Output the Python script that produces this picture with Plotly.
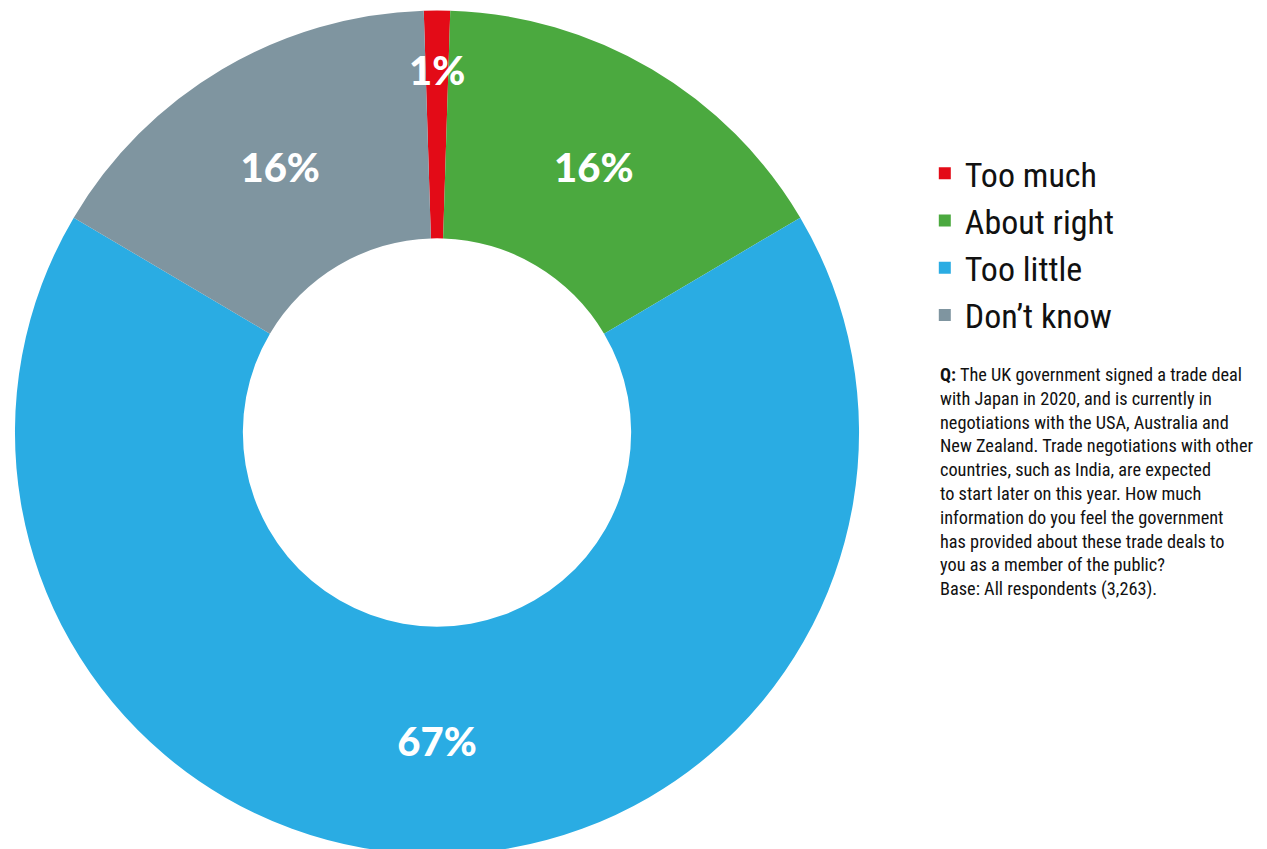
import math
import plotly.graph_objects as go

categories = ["Too much", "About right", "Too little", "Don\u2019t know"]
values = [1, 16, 67, 16]
colors = ["#e30b17", "#4ba93f", "#2aace3", "#7f95a0"]

note = ("<b>Q:</b> The UK government signed a trade deal<br>"
        "with Japan in 2020, and is currently in<br>"
        "negotiations with the USA, Australia and<br>"
        "New Zealand. Trade negotiations with other<br>"
        "countries, such as India, are expected<br>"
        "to start later on this year. How much<br>"
        "information do you feel the government<br>"
        "has provided about these trade deals to<br>"
        "you as a member of the public?<br>"
        "Base: All respondents (3,263).")

narrow = "Roboto Condensed, Liberation Sans Narrow, DejaVu Sans Condensed, sans-serif"
label_font = dict(family="Lato, Roboto, sans-serif", size=40, color="white", weight=900)

W, H = 1267, 849
TOP = 0
dom_x = [0.0055, 0.6717]
rotation = -1.8
small = 2  # slices below this value get a label placed near the outer rim

positions = ["none" if v < small else "inside" for v in values]

fig = go.Figure(go.Pie(
    labels=categories,
    values=values,
    marker=dict(colors=colors, line=dict(width=0)),
    hole=0.46,
    sort=False,
    direction="clockwise",
    rotation=rotation,
    texttemplate="%{value}%",
    textposition=positions,
    insidetextorientation="horizontal",
    textfont=label_font,
    domain=dict(x=dom_x, y=[0, 1]),
    hoverinfo="label+percent",
))

# label for tiny slices, placed at the slice's mid angle near the rim
plot_h = H - TOP
r_px = min(plot_h, W * (dom_x[1] - dom_x[0])) / 2
cx = (dom_x[0] + dom_x[1]) / 2
total = sum(values)
annotations = []
cum = 0
for v in values:
    if v < small:
        ang = math.radians(rotation + 360 * (cum + v / 2) / total)
        rr = 0.86 * r_px
        annotations.append(dict(
            text=f"{v}%", x=cx + rr * math.sin(ang) / W, y=0.5 + rr * math.cos(ang) / plot_h,
            xref="paper", yref="paper", xanchor="center", yanchor="middle",
            showarrow=False, font=label_font))
    cum += v

annotations.append(dict(text=note, x=0.7344, y=0.5828, xref="paper", yref="paper",
                        xanchor="left", yanchor="top", align="left", showarrow=False,
                        font=dict(family=narrow, size=18.3, color="#111111")))

fig.update_layout(
    width=W, height=H,
    margin=dict(l=0, r=0, t=TOP, b=0),
    paper_bgcolor="white", plot_bgcolor="white",
    legend=dict(x=0.7236, y=0.839, xanchor="left", yanchor="top",
                font=dict(family=narrow, size=34, color="#111111"),
                itemwidth=30, tracegroupgap=0),
    annotations=annotations,
)

fig.write_html("out.html")
